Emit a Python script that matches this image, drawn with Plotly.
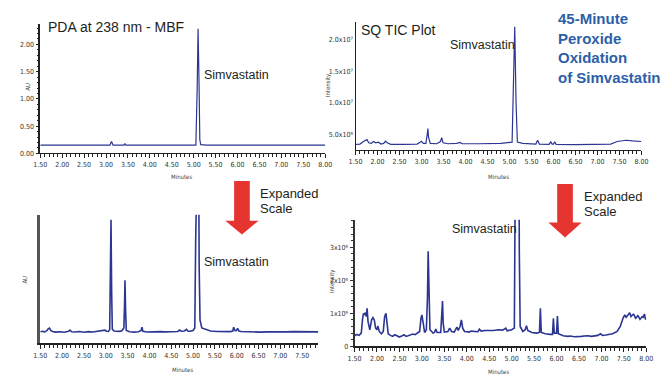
import plotly.graph_objects as go

W, H = 667, 377

# ---------------- data ----------------
# Top-left: PDA at 238 nm (AU)
pda_x = [1.50, 2.20, 3.09, 3.11, 3.125, 3.14, 3.16, 3.41, 3.43, 3.45, 5.05, 5.08, 5.10, 5.12, 5.14, 5.16, 5.30, 8.00]
pda_y = [0.150, 0.150, 0.150, 0.190, 0.220, 0.190, 0.150, 0.150, 0.180, 0.150, 0.150, 1.20, 2.29, 1.40, 0.25, 0.160, 0.152, 0.150]

# Bottom-left: PDA expanded scale (relative units)
pdae_x = [1.50, 1.55, 1.60, 1.65, 1.68, 1.71, 1.74, 1.78, 1.85, 1.95, 2.05, 2.15, 2.18, 2.22, 2.30, 2.40,
          2.50, 2.60, 2.70, 2.80, 2.90, 2.95, 2.98, 3.02, 3.06, 3.09, 3.105, 3.12, 3.135, 3.15, 3.19, 3.25,
          3.32, 3.37, 3.415, 3.43, 3.44, 3.455, 3.47, 3.55, 3.65, 3.75, 3.81, 3.83, 3.85, 3.95, 4.05, 4.15, 4.25,
          4.35, 4.45, 4.55, 4.65, 4.69, 4.73, 4.80, 4.85, 4.88, 4.93, 5.00, 5.04, 5.06, 5.08, 5.12, 5.14,
          5.16, 5.20, 5.30, 5.40, 5.55, 5.70, 5.85, 5.91, 5.93, 5.96, 5.99, 6.02, 6.05, 6.10, 6.25, 6.40,
          6.55, 6.70, 6.85, 7.00, 7.15, 7.30, 7.45, 7.60, 7.75, 7.87]
pdae_y = [9.0, 9.4, 8.9, 9.8, 11.2, 11.8, 10.0, 9.2, 8.7, 9.0, 8.6, 9.3, 10.3, 9.0, 8.8, 9.2,
          8.6, 9.1, 8.8, 9.4, 9.8, 10.6, 10.2, 9.4, 9.2, 10.5, 40.0, 96.0, 40.0, 11.0, 9.6, 9.2,
          9.3, 9.8, 12.0, 30.0, 49.0, 25.0, 10.0, 9.0, 8.7, 9.0, 10.0, 12.5, 9.4, 8.8, 9.0, 8.7, 9.1,
          8.9, 9.0, 9.3, 9.2, 10.3, 9.4, 9.6, 10.8, 9.5, 9.4, 10.0, 12.0, 80.0, 200.0, 200.0, 60.0,
          18.0, 12.0, 10.5, 9.6, 9.2, 9.0, 9.1, 9.6, 12.5, 10.0, 9.8, 11.6, 9.6, 9.2, 8.9, 9.0,
          8.7, 8.9, 8.8, 9.0, 8.9, 9.1, 8.9, 9.0, 8.8, 8.9]

# Top-right: SQ TIC (counts)
tic_x = [1.50, 1.60, 1.68, 1.72, 1.76, 1.80, 1.86, 1.91, 1.96, 2.02, 2.08, 2.14, 2.18, 2.22, 2.30, 2.60,
         2.90, 2.97, 3.00, 3.04, 3.10, 3.13, 3.145, 3.16, 3.20, 3.35, 3.43, 3.46, 3.49, 3.60, 3.80, 3.88,
         3.92, 4.30, 4.80, 5.06, 5.09, 5.12, 5.15, 5.18, 5.30, 5.60, 5.64, 5.68, 5.90, 5.94, 5.97, 6.00,
         6.03, 6.06, 6.50, 7.00, 7.30, 7.45, 7.55, 7.65, 7.80, 7.95, 8.00]
tic_y = [3.45e6, 3.5e6, 3.9e6, 4.1e6, 4.2e6, 3.7e6, 3.6e6, 3.9e6, 3.7e6, 3.8e6, 3.5e6, 3.6e6, 3.95e6, 3.7e6, 3.45e6, 3.45e6,
         3.5e6, 3.8e6, 3.95e6, 3.6e6, 3.6e6, 5.0e6, 5.95e6, 4.6e6, 3.6e6, 3.55e6, 3.9e6, 4.5e6, 3.7e6, 3.55e6, 3.6e6, 3.75e6,
         3.55e6, 3.55e6, 3.6e6, 3.8e6, 14.0e6, 22.0e6, 10.0e6, 3.8e6, 3.6e6, 3.5e6, 4.1e6, 3.5e6, 3.45e6, 3.85e6, 3.5e6, 3.5e6,
         3.85e6, 3.45e6, 3.4e6, 3.45e6, 3.5e6, 3.9e6, 4.05e6, 4.1e6, 4.0e6, 4.0e6, 3.9e6]

# Bottom-right: SQ TIC expanded (counts)
tice_x = [1.50, 1.55, 1.60, 1.65, 1.68, 1.70, 1.72, 1.74, 1.76, 1.78, 1.80, 1.84, 1.88, 1.91, 1.94, 1.97,
          2.00, 2.02, 2.05, 2.10, 2.14, 2.17, 2.20, 2.22, 2.25, 2.30, 2.35, 2.40, 2.45, 2.50, 2.55, 2.60,
          2.65, 2.70, 2.75, 2.80, 2.85, 2.90, 2.95, 2.98, 3.00, 3.03, 3.06, 3.10, 3.125, 3.14, 3.155, 3.18,
          3.25, 3.28, 3.31, 3.34, 3.42, 3.44, 3.46, 3.475, 3.50, 3.58, 3.62, 3.66, 3.72, 3.78, 3.81, 3.85,
          3.88, 3.91, 3.95, 4.00, 4.05, 4.10, 4.15, 4.20, 4.25, 4.28, 4.32, 4.40, 4.50, 4.60, 4.70, 4.80,
          4.87, 4.90, 5.00, 5.06, 5.08, 5.10, 5.15, 5.17, 5.19, 5.25, 5.30, 5.33, 5.36, 5.45, 5.55, 5.62,
          5.64, 5.66, 5.75, 5.85, 5.91, 5.93, 5.95, 6.00, 6.02, 6.04, 6.10, 6.15, 6.25, 6.30, 6.40, 6.45,
          6.55, 6.62, 6.70, 6.78, 6.85, 6.92, 6.98, 7.02, 7.10, 7.15, 7.25, 7.35, 7.42, 7.48, 7.52, 7.55,
          7.58, 7.61, 7.63, 7.66, 7.68, 7.71, 7.73, 7.76, 7.78, 7.81, 7.83, 7.86, 7.88, 7.91, 7.93, 7.96,
          7.98, 8.00]
tice_y = [0.32e6, 0.36e6, 0.33e6, 0.40e6, 0.85e6, 1.00e6, 0.95e6, 1.02e6, 0.90e6, 1.15e6, 0.75e6, 0.50e6, 0.80e6, 0.87e6, 0.80e6, 0.55e6,
          0.50e6, 0.62e6, 0.45e6, 0.38e6, 0.45e6, 0.90e6, 1.00e6, 0.70e6, 0.38e6, 0.33e6, 0.30e6, 0.35e6, 0.32e6, 0.28e6, 0.31e6, 0.35e6,
          0.30e6, 0.33e6, 0.36e6, 0.37e6, 0.35e6, 0.40e6, 0.45e6, 0.85e6, 0.95e6, 0.70e6, 0.42e6, 0.50e6, 1.50e6, 2.88e6, 1.50e6, 0.50e6,
          0.40e6, 0.42e6, 0.52e6, 0.42e6, 0.42e6, 0.80e6, 1.37e6, 0.70e6, 0.43e6, 0.45e6, 0.55e6, 0.45e6, 0.43e6, 0.58e6, 0.48e6, 0.60e6,
          0.80e6, 0.55e6, 0.45e6, 0.44e6, 0.43e6, 0.46e6, 0.45e6, 0.43e6, 0.44e6, 0.52e6, 0.46e6, 0.48e6, 0.47e6, 0.48e6, 0.50e6, 0.49e6,
          0.55e6, 0.47e6, 0.50e6, 0.55e6, 5.0e6, 19.0e6, 19.0e6, 3.0e6, 0.60e6, 0.45e6, 0.50e6, 0.62e6, 0.48e6, 0.42e6, 0.40e6, 0.42e6,
          1.15e6, 0.42e6, 0.38e6, 0.36e6, 0.36e6, 0.85e6, 0.40e6, 0.40e6, 0.92e6, 0.38e6, 0.34e6, 0.32e6, 0.30e6, 0.31e6, 0.29e6, 0.30e6,
          0.30e6, 0.31e6, 0.32e6, 0.30e6, 0.32e6, 0.33e6, 0.38e6, 0.33e6, 0.34e6, 0.35e6, 0.38e6, 0.45e6, 0.60e6, 0.85e6, 0.95e6, 0.88e6,
          0.93e6, 0.98e6, 1.02e6, 0.90e6, 0.92e6, 0.97e6, 0.95e6, 0.85e6, 0.87e6, 0.93e6, 0.90e6, 0.82e6, 0.85e6, 0.90e6, 0.88e6, 0.98e6,
          0.82e6, 0.85e6]

x_ticks_full = [1.5, 2.0, 2.5, 3.0, 3.5, 4.0, 4.5, 5.0, 5.5, 6.0, 6.5, 7.0, 7.5, 8.0]
pda_yticks = [0.0, 0.5, 1.0, 1.5, 2.0]
tic_yticks = [5e6, 10e6, 15e6, 20e6]
tic_ytext = ["5.0x10\u2076", "1.0x10\u2077", "1.5x10\u2077", "2.0x10\u2077"]
tice_yticks = [0, 1e6, 2e6, 3e6]
tice_ytext = ["0", "1x10\u2076", "2x10\u2076", "3x10\u2076"]

# ---------------- helpers ----------------
def px(x):
    return x / W

def py(y):
    return 1 - y / H

LINE = "#2b3592"
TXT = "#231f20"
TICKFONT = dict(family="Liberation Sans Narrow, DejaVu Sans Condensed, Arial Narrow, sans-serif", size=7, color="#333")

fig = go.Figure()
fig.add_trace(go.Scatter(x=pda_x, y=pda_y, mode="lines", line=dict(color=LINE, width=1.2), xaxis="x", yaxis="y", showlegend=False))
fig.add_trace(go.Scatter(x=tic_x, y=tic_y, mode="lines", line=dict(color=LINE, width=1.2), xaxis="x2", yaxis="y2", showlegend=False))
fig.add_trace(go.Scatter(x=pdae_x, y=pdae_y, mode="lines", line=dict(color=LINE, width=1.6), xaxis="x3", yaxis="y3", showlegend=False))
fig.add_trace(go.Scatter(x=tice_x, y=tice_y, mode="lines", line=dict(color=LINE, width=1.6), xaxis="x4", yaxis="y4", showlegend=False))

def xaxis(anchor, dom, rng, linew=1, labels=None):
    return dict(anchor=anchor, domain=dom, range=rng, showgrid=False, zeroline=False,
                showline=True, linecolor="#222", linewidth=linew,
                tickmode="array", tickvals=labels, ticktext=[f"{v:.2f}" for v in labels],
                ticks="outside", ticklen=4, tickwidth=1, tickcolor="#222",
                minor=dict(dtick=0.1, tick0=1.5, ticks="outside", ticklen=3, tickcolor="#222", showgrid=False),
                tickfont=TICKFONT, fixedrange=True)

layout = dict(
    width=W, height=H, margin=dict(l=0, r=0, t=0, b=0),
    paper_bgcolor="white", plot_bgcolor="white",
    xaxis=xaxis("y", [px(34), px(325)], [1.5, 8.0], 1, x_ticks_full),
    yaxis=dict(anchor="x", domain=[py(155), py(24)], range=[0, 2.38], showgrid=False, zeroline=False,
               showline=True, linecolor="#222", linewidth=1.5,
               tickmode="array", tickvals=pda_yticks, ticktext=[f"{v:.2f}" for v in pda_yticks],
               ticks="outside", ticklen=3, tickcolor="#222",
               minor=dict(dtick=0.1, ticks="outside", ticklen=2, tickcolor="#222", showgrid=False),
               tickfont=TICKFONT),
    xaxis2=xaxis("y2", [px(356), px(648)], [1.5, 8.0], 1, x_ticks_full),
    yaxis2=dict(anchor="x2", domain=[py(152), py(22)], range=[2.5e6, 22.8e6], showgrid=False, zeroline=False,
                showline=True, linecolor="#222", linewidth=1,
                tickmode="array", tickvals=tic_yticks, ticktext=tic_ytext, ticks="",
                tickfont=TICKFONT),
    xaxis3=xaxis("y3", [px(34), px(318)], [1.5, 7.87], 2, x_ticks_full[:-1]),
    yaxis3=dict(anchor="x3", domain=[py(347), py(217)], range=[0, 100], showgrid=False, zeroline=False,
                showline=True, linecolor="#555", linewidth=2.5, showticklabels=False, ticks=""),
    xaxis4=xaxis("y4", [px(355), px(653)], [1.5, 8.0], 2, x_ticks_full),
    yaxis4=dict(anchor="x4", domain=[py(350), py(222)], range=[0, 3.84e6], showgrid=False, zeroline=False,
                showline=True, linecolor="#333", linewidth=2,
                tickmode="array", tickvals=tice_yticks, ticktext=tice_ytext,
                ticks="outside", ticklen=3, tickcolor="#333",
                minor=dict(dtick=0.2e6, ticks="outside", ticklen=2, tickcolor="#333", showgrid=False),
                tickfont=TICKFONT),
)

ann = []
def text(x, y, s, size, color=TXT, xanchor="left", yanchor="middle", angle=0, bold=False, family="Liberation Sans, Arial, sans-serif", align="left"):
    ann.append(dict(x=px(x), y=py(y), xref="paper", yref="paper", text=(f"<b>{s}</b>" if bold else s),
                    showarrow=False, xanchor=xanchor, yanchor=yanchor, textangle=angle, align=align,
                    font=dict(size=size, color=color, family=family)))

text(40, 27, "PDA at 238 nm - MBF", 14)
text(199, 76, "Simvastatin", 12.5)
text(360, 30, "SQ TIC Plot", 14)
text(450, 45, "Simvastatin", 12.5)
text(199, 265, "Simvastatin", 12.5)
text(452, 231, "Simvastatin", 12.5)
text(561, 8, "45-Minute<br>Peroxide<br>Oxidation<br>of Simvastatin", 15, color="#2d5fa8", yanchor="top", bold=True)
text(256, 196, "Expanded", 13)
text(256, 211, "Scale", 13)
text(587, 199, "Expanded", 13)
text(587, 214, "Scale", 13)
small = dict(size=6, family="Liberation Sans Narrow, DejaVu Sans Condensed, sans-serif", color="#444", xanchor="center")
text(20, 88, "AU", angle=-90, **small)
text(18, 283, "AU", angle=-90, **small)
text(328, 86, "Intensity", angle=-90, **small)
text(332, 284, "Intensity", angle=-90, **small)
text(178, 178, "Minutes", **small)
text(502, 178, "Minutes", **small)
text(179, 373, "Minutes", **small)
text(502, 375, "Minutes", **small)
layout["annotations"] = ann

def arrow(cx, top, shaft_bot, tip, sw=8, hw=17):
    pts = [(cx - sw, top), (cx + sw, top), (cx + sw, shaft_bot), (cx + hw, shaft_bot), (cx, tip),
           (cx - hw, shaft_bot), (cx - sw, shaft_bot)]
    path = "M " + " L ".join(f"{px(a):.5f},{py(b):.5f}" for a, b in pts) + " Z"
    return dict(type="path", xref="paper", yref="paper", path=path, fillcolor="#e63431", line=dict(width=0))

layout["shapes"] = [arrow(240, 183, 223, 237), arrow(570, 186, 225, 240)]

fig.update_layout(**layout)
fig.write_html("out.html")
